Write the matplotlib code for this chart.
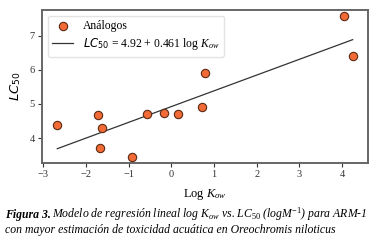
import numpy as np
import matplotlib.pyplot as plt

# data
log_kow = [-2.67, -1.71, -1.63, -1.68, -0.91, -0.56, -0.17, 0.15, 0.72, 0.78, 4.05, 4.25]
lc50 = [4.37, 4.68, 4.29, 3.70, 3.46, 4.70, 4.73, 4.71, 4.91, 5.90, 7.58, 6.41]
intercept = 4.92
slope = 0.461

plt.rcParams['font.family'] = 'Liberation Serif'
plt.rcParams['mathtext.fontset'] = 'custom'
plt.rcParams['mathtext.rm'] = 'Liberation Serif'
plt.rcParams['mathtext.it'] = 'Liberation Serif:italic'
plt.rcParams['mathtext.sf'] = 'DejaVu Sans:italic'
plt.rcParams['mathtext.tt'] = 'DejaVu Sans'

fig = plt.figure(figsize=(3.81, 2.47), dpi=100)
ax = fig.add_axes([0.110, 0.340, 0.856, 0.620])

x = np.array(log_kow)
xl = np.linspace(x.min(), x.max(), 50)
ax.scatter(log_kow, lc50, s=36, color='#f26a35', edgecolor='#5a2a14', linewidth=0.8,
           zorder=3, label='Análogos')
ax.plot(xl, intercept + slope * xl, color='#333333', lw=0.9,
        label=r'$\mathsf{LC}_{\mathtt{50}}$ = 4.92 + 0.461 log $K_{ow}$')

ax.set_xlim(-3.03, 4.61)
ax.set_ylim(3.27, 7.75)
ax.set_xticks([-3, -2, -1, 0, 1, 2, 3, 4])
ax.set_xticklabels(['\u22123', '\u22122', '\u22121', '0', '1', '2', '3', '4'])
ax.set_yticks([4, 5, 6, 7])
ax.tick_params(labelsize=7.5, length=3, width=0.8, color='#333333', labelcolor='#333333', pad=2)
for s in ax.spines.values():
    s.set_color('#666666')
    s.set_linewidth(1.4)

ax.set_ylabel(r'$\mathsf{LC}_{\mathtt{50}}$', fontsize=9.5, labelpad=5)
ax.set_xlabel(r'Log $K_{ow}$', fontsize=9, labelpad=6)

ax.legend(loc='upper left', fontsize=8.4, frameon=True, edgecolor='#dddddd',
          handlelength=1.8, handletextpad=0.8, borderpad=0.4, labelspacing=0.3)

# caption
t1 = fig.text(0.012, 0.118, 'Figura 3.', fontsize=8.45, fontweight='bold', style='italic')
fig.canvas.draw()
bb = t1.get_window_extent()
x2 = (bb.x1 + 2) / fig.bbox.width
fig.text(x2, 0.118, r'Modelo de regresión lineal log $K_{ow}$ vs. $LC_{50}$ (logM$^{-1}$) para ARM-1',
         fontsize=8.45, style='italic')
fig.text(0.012, 0.056, 'con mayor estimación de toxicidad acuática en Oreochromis niloticus',
         fontsize=8.45, style='italic')

fig.savefig('out.png', dpi=100)
